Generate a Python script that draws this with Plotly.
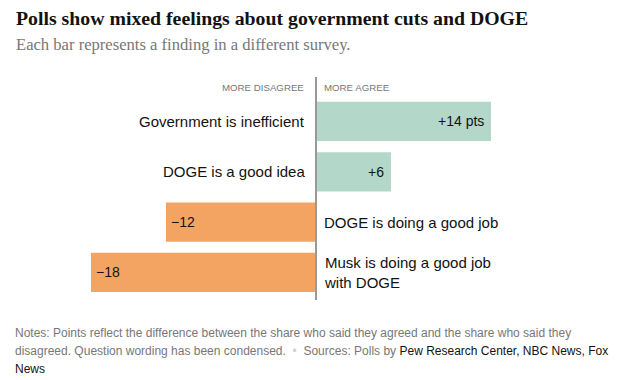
import plotly.graph_objects as go

categories = ["Government is inefficient", "DOGE is a good idea",
              "DOGE is doing a good job", "Musk is doing a good job<br>with DOGE"]
values = [14, 6, -12, -18]
value_labels = ["+14 pts", "+6", "\u221212", "\u221218"]

GREEN = "#b3d7c8"
ORANGE = "#f4a462"
ypos = list(range(len(values)))
colors = [GREEN if v > 0 else ORANGE for v in values]

# The page body has an 8px margin; figure coords = reference coords - 8
W, H = 621, 372
PT, PB = 69, 292          # plot area top / bottom (figure px)
ZERO = 308                # zero line (figure px)
SCALE = 12.5              # px per point

def py(fy):
    return (PB - fy) / (PB - PT)

def px(fx):
    return fx / W

fig = go.Figure()
fig.add_trace(go.Bar(
    x=values, y=ypos, orientation="h", marker=dict(color=colors, line=dict(width=0)),
    width=0.78, hoverinfo="skip", showlegend=False,
))

LABEL_FONT = dict(size=15, color="#121212", family="Liberation Sans, Arial, sans-serif")
ann = []
for i, (v, c, lab) in enumerate(zip(values, categories, value_labels)):
    if v > 0:
        ann.append(dict(x=v, y=i, xref="x", yref="y", text=lab, showarrow=False,
                        xanchor="right", xshift=-5, font=dict(size=14, color="#121212")))
        ann.append(dict(x=0, y=i, xref="x", yref="y", text=c, showarrow=False,
                        xanchor="right", xshift=-9, align="right", font=LABEL_FONT))
    else:
        ann.append(dict(x=v, y=i, xref="x", yref="y", text=lab, showarrow=False,
                        xanchor="left", xshift=3, font=dict(size=14, color="#121212")))
        ann.append(dict(x=0, y=i, xref="x", yref="y", text=c, showarrow=False,
                        xanchor="left", xshift=6, align="left", font=LABEL_FONT))

HDR_FONT = dict(size=9.7, color="#777", family="Liberation Sans, Arial, sans-serif")
ann.append(dict(x=0, y=1, xref="x", yref="paper", yanchor="middle", yshift=-10, text="MORE DISAGREE",
                showarrow=False, xanchor="right", xshift=-10, font=HDR_FONT))
ann.append(dict(x=0, y=1, xref="x", yref="paper", yanchor="middle", yshift=-10, text="MORE AGREE",
                showarrow=False, xanchor="left", xshift=6, font=HDR_FONT))

ann.append(dict(x=px(6), y=py(10), xref="paper", yref="paper", yanchor="middle", xanchor="left",
                text="<b>Polls show mixed feelings about government cuts and DOGE</b>", showarrow=False,
                font=dict(family="Liberation Serif, Times New Roman, serif", size=19.8, color="#121212")))
ann.append(dict(x=px(6), y=py(36), xref="paper", yref="paper", yanchor="middle", xanchor="left",
                text="Each bar represents a finding in a different survey.", showarrow=False,
                font=dict(family="Liberation Serif, Times New Roman, serif", size=16.6, color="#777777")))

note_lines = [
    "Notes: Points reflect the difference between the share who said they agreed and the share who said they",
    "disagreed. Question wording has been condensed. \u00a0<span style='color:#d0d0d0'>\u2022</span>\u00a0 Sources: Polls by "
    "<span style='color:#121212'>Pew Research Center, NBC News, Fox</span>",
    "<span style='color:#121212'>News</span>",
]
note_y = [325, 343, 361]
for line, yy in zip(note_lines, note_y):
    ann.append(dict(x=px(5), y=py(yy), xref="paper", yref="paper", yanchor="middle", xanchor="left",
                    text=line, showarrow=False, align="left",
                    font=dict(family="Liberation Sans, Arial, sans-serif", size=12.0, color="#777777")))

fig.add_shape(type="line", xref="x", yref="paper", x0=0, x1=0, y0=0, y1=1,
              line=dict(color="#999", width=2))

fig.update_layout(
    width=W, height=H,
    margin=dict(l=0, r=0, t=PT, b=H - PB, pad=0),
    paper_bgcolor="white", plot_bgcolor="white",
    font=dict(family="Liberation Sans, Arial, sans-serif"),
    xaxis=dict(range=[-ZERO / SCALE, (W - ZERO) / SCALE], visible=False, fixedrange=True),
    yaxis=dict(range=[3.547, -0.884], visible=False, fixedrange=True),
    annotations=ann,
)
fig.write_html("out.html")
